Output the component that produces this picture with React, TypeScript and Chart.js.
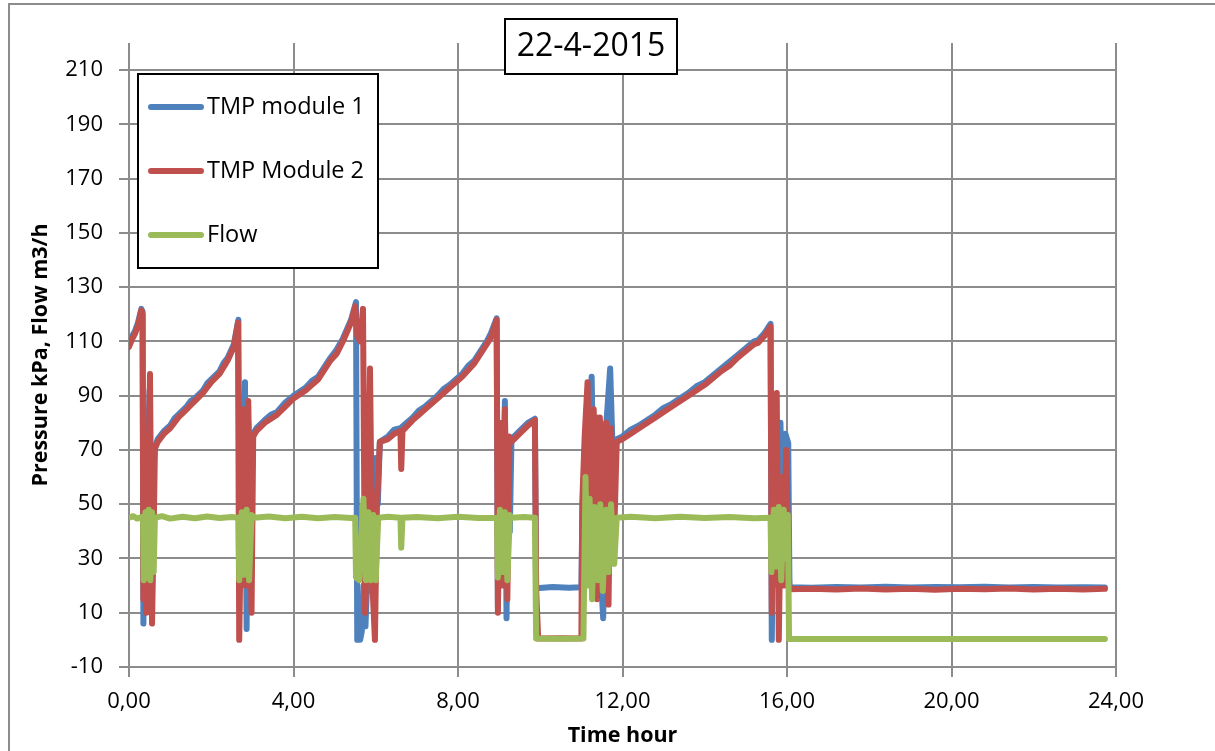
import React, { useEffect, useRef } from "react";
import { Chart, registerables } from "chart.js";

Chart.register(...registerables);

const chartTitle = "22-4-2015";
const seriesNames = ["TMP module 1", "TMP Module 2", "Flow"];
const seriesColors = ["#4f81bd", "#c0504d", "#9bbb59"];
const yTickValues = [-10, 10, 30, 50, 70, 90, 110, 130, 150, 170, 190, 210];
const xAxisTitle = "Time hour";
const yAxisTitle = "Pressure kPa, Flow m3/h";

const tmp1Time = [0, 0.08, 0.15, 0.22, 0.3, 0.33, 0.35, 0.38, 0.42, 0.46, 0.5, 0.54, 0.58, 0.63, 0.7, 0.85, 1.0, 1.1, 1.2, 1.4, 1.5, 1.6, 1.8, 1.9, 2.0, 2.2, 2.3, 2.4, 2.55, 2.66, 2.68, 2.72, 2.78, 2.82, 2.86, 2.9, 2.95, 3.02, 3.1, 3.3, 3.45, 3.6, 3.8, 4.0, 4.3, 4.45, 4.6, 4.9, 5.05, 5.2, 5.4, 5.52, 5.55, 5.58, 5.62, 5.66, 5.7, 5.75, 5.8, 5.85, 5.9, 5.95, 6.0, 6.05, 6.1, 6.3, 6.45, 6.6, 6.9, 7.05, 7.2, 7.5, 7.65, 7.8, 8.1, 8.25, 8.4, 8.7, 8.8, 8.94, 8.97, 9.02, 9.08, 9.14, 9.18, 9.22, 9.26, 9.3, 9.5, 9.7, 9.87, 9.9, 10.3, 10.7, 11.0, 11.02, 11.08, 11.15, 11.25, 11.3, 11.38, 11.45, 11.53, 11.6, 11.7, 11.78, 11.86, 12.0, 12.2, 12.4, 12.8, 13.0, 13.2, 13.6, 13.8, 14.0, 14.4, 14.6, 14.8, 15.2, 15.3, 15.45, 15.6, 15.63, 15.66, 15.72, 15.78, 15.84, 15.9, 15.96, 16.03, 16.06, 16.6, 17.2, 17.8, 18.4, 19.0, 19.6, 20.2, 20.8, 21.4, 22.0, 22.6, 23.2, 23.73];
const tmp1Values = [109, 112, 114, 117, 122, 121, 6, 40, 20, 70, 92, 30, 60, 71, 74, 77, 79, 81.5, 83, 86, 88, 89, 92, 94.5, 96, 99, 102, 104, 109, 118, 50, 20, 60, 95, 4, 80, 40, 76, 78, 81, 83, 84, 87.5, 90, 93, 95.5, 97, 104, 107, 111, 118, 124.5, 0, 10, 0, 3, 20, 5, 25, 60, 20, 15, 67, 50, 73, 75, 77.5, 78, 82, 84.5, 86, 90, 92.5, 94, 98, 101, 103, 110, 113, 118.5, 12, 60, 30, 88, 8, 70, 40, 74, 77, 80, 81.5, 19, 19.5, 19.2, 19.4, 40, 70, 60, 97, 50, 82, 30, 8, 78, 100, 60, 74, 75, 77.5, 79, 83, 85.5, 87, 91, 93.5, 95, 100, 102.5, 105, 110, 110.5, 113, 116.5, 0, 40, 90, 20, 80, 40, 76, 72.5, 19.4, 19.2, 19.5, 19.3, 19.6, 19.3, 19.5, 19.4, 19.6, 19.3, 19.5, 19.3, 19.4, 19.3];

const tmp2Time = [0, 0.08, 0.15, 0.22, 0.3, 0.33, 0.35, 0.38, 0.42, 0.46, 0.51, 0.56, 0.6, 0.63, 0.7, 0.85, 1.0, 1.1, 1.2, 1.4, 1.5, 1.6, 1.8, 1.9, 2.0, 2.2, 2.3, 2.4, 2.55, 2.65, 2.68, 2.72, 2.78, 2.84, 2.9, 2.98, 3.02, 3.1, 3.3, 3.45, 3.6, 3.8, 4.0, 4.3, 4.45, 4.6, 4.9, 5.05, 5.2, 5.4, 5.5, 5.55, 5.62, 5.69, 5.74, 5.8, 5.86, 5.92, 5.98, 6.03, 6.1, 6.3, 6.45, 6.6, 6.62, 6.65, 6.9, 7.05, 7.2, 7.5, 7.65, 7.8, 8.1, 8.25, 8.4, 8.7, 8.8, 8.94, 8.97, 9.02, 9.08, 9.14, 9.2, 9.25, 9.3, 9.5, 9.7, 9.87, 9.9, 9.95, 10.5, 11.0, 11.02, 11.08, 11.15, 11.22, 11.3, 11.38, 11.45, 11.53, 11.6, 11.66, 11.72, 11.8, 11.86, 12.0, 12.2, 12.4, 12.8, 13.0, 13.2, 13.6, 13.8, 14.0, 14.4, 14.6, 14.8, 15.2, 15.3, 15.45, 15.6, 15.63, 15.68, 15.75, 15.8, 15.86, 15.92, 15.98, 16.03, 16.06, 16.6, 17.2, 17.8, 18.4, 19.0, 19.6, 20.2, 20.8, 21.4, 22.0, 22.6, 23.2, 23.73];
const tmp2Values = [108, 111, 113, 116, 121.5, 120, 15, 60, 10, 50, 98, 6, 40, 70.5, 73, 76, 78, 80, 82, 85, 86.5, 88, 91, 93, 95, 98, 100.5, 103, 108, 117, 0, 40, 85, 20, 88, 10, 75, 77, 80, 81.5, 83, 86, 89, 92, 94, 96, 103, 105.5, 110, 117, 123, 112, 110, 122, 10, 40, 100, 20, 0, 50, 73, 74, 76, 77, 63, 77, 81, 83, 85, 89, 91, 93, 97, 99.5, 102, 109, 111.5, 118, 10, 80, 20, 85, 15, 75, 73, 76, 79, 81, 19, 0.5, 0.6, 0.5, 50, 75, 95, 30, 85, 15, 82, 20, 80, 13, 78, 40, 73, 74, 76, 78, 82, 84, 86, 90, 92, 94, 99, 101, 104, 109, 109.5, 112, 115.5, 10, 80, 91, 0, 60, 20, 70, 30, 18.7, 18.8, 18.6, 18.9, 18.6, 18.8, 18.5, 18.8, 18.7, 18.9, 18.6, 18.8, 18.6, 18.8];

const flowTime = [0, 0.1, 0.2, 0.3, 0.34, 0.36, 0.4, 0.44, 0.48, 0.52, 0.56, 0.6, 0.63, 0.8, 1.0, 1.3, 1.6, 1.9, 2.2, 2.5, 2.66, 2.68, 2.74, 2.8, 2.86, 2.92, 2.98, 3.04, 3.4, 3.8, 4.2, 4.6, 5.0, 5.4, 5.5, 5.52, 5.6, 5.66, 5.7, 5.76, 5.82, 5.88, 5.94, 6.0, 6.06, 6.3, 6.6, 6.62, 6.65, 7.0, 7.5, 8.0, 8.5, 8.95, 8.97, 9.02, 9.08, 9.14, 9.2, 9.26, 9.3, 9.6, 9.87, 9.9, 10.5, 11.05, 11.1, 11.15, 11.2, 11.26, 11.32, 11.4, 11.46, 11.52, 11.6, 11.66, 11.72, 11.8, 11.86, 12.2, 12.8, 13.4, 14.0, 14.6, 15.2, 15.6, 15.62, 15.68, 15.74, 15.8, 15.86, 15.92, 15.98, 16.02, 16.05, 17.0, 20.0, 23.73];
const flowValues = [45, 45.6, 44.7, 45.3, 45, 22, 47, 23, 48, 22, 47, 25, 45, 45.6, 44.7, 45.4, 44.8, 45.5, 44.9, 45.3, 45, 22, 47, 24, 48, 22, 46, 45, 45.5, 44.8, 45.4, 44.8, 45.3, 44.9, 45, 23, 22, 40, 52, 22, 47, 22, 46, 22, 45, 45.4, 45, 34, 45, 45.3, 44.8, 45.4, 44.9, 45, 23, 48, 25, 47, 22, 46, 45, 45.3, 45, 0.5, 0.4, 0.5, 60, 20, 52, 15, 49, 22, 50, 18, 48, 25, 50, 28, 45, 45.4, 44.8, 45.4, 44.9, 45.3, 44.8, 45, 25, 48, 27, 49, 22, 48, 30, 46, 0.3, 0.3, 0.3, 0.3];

const FONT = "'Open Sans', sans-serif";

const decorPlugin = {
  id: "decor",
  afterDraw(chart: any) {
    const ctx = chart.ctx;
    ctx.save();
    // outer frame
    ctx.strokeStyle = "#8c8c8c";
    ctx.lineWidth = 2;
    ctx.beginPath();
    ctx.moveTo(9, 760);
    ctx.lineTo(9, 4);
    ctx.lineTo(1220, 4);
    ctx.stroke();
    // title box
    ctx.fillStyle = "#ffffff";
    ctx.fillRect(505, 19, 172, 55);
    ctx.strokeStyle = "#000000";
    ctx.lineWidth = 2;
    ctx.strokeRect(505, 19, 172, 55);
    ctx.fillStyle = "#000000";
    ctx.font = `32px ${FONT}`;
    ctx.textAlign = "center";
    ctx.textBaseline = "middle";
    ctx.fillText(chartTitle, 591, 47);
    // legend box
    ctx.fillStyle = "#ffffff";
    ctx.fillRect(138, 74, 240, 194);
    ctx.strokeStyle = "#000000";
    ctx.lineWidth = 2;
    ctx.strokeRect(138, 74, 240, 194);
    const rows = [107, 171, 235];
    ctx.font = `23.5px ${FONT}`;
    ctx.textAlign = "left";
    for (let i = 0; i < 3; i++) {
      ctx.strokeStyle = seriesColors[i];
      ctx.lineWidth = 6;
      ctx.lineCap = "round";
      ctx.beginPath();
      ctx.moveTo(151, rows[i]);
      ctx.lineTo(201, rows[i]);
      ctx.stroke();
      ctx.fillStyle = "#000000";
      ctx.fillText(seriesNames[i], 207, rows[i]);
    }
    ctx.restore();
  },
};

function toPoints(t: number[], v: number[]) {
  return t.map((x, i) => ({ x, y: v[i] }));
}

export default function App() {
  const ref = useRef<HTMLCanvasElement>(null);
  useEffect(() => {
    if (!ref.current) return;
    const line = (i: number, t: number[], v: number[], order: number) => ({
      label: seriesNames[i],
      data: toPoints(t, v),
      borderColor: seriesColors[i],
      backgroundColor: seriesColors[i],
      borderWidth: 6,
      borderCapStyle: "round",
      borderJoinStyle: "round",
      pointRadius: 0,
      tension: 0,
      order,
    });
    const chart = new Chart(ref.current, {
      type: "line",
      data: {
        datasets: [
          line(0, tmp1Time, tmp1Values, 3),
          line(1, tmp2Time, tmp2Values, 2),
          line(2, flowTime, flowValues, 1),
        ] as any,
      },
      options: {
        animation: false,
        responsive: false,
        layout: { padding: { left: 0, right: 99, top: 43, bottom: 0 } },
        plugins: { legend: { display: false }, tooltip: { enabled: false }, title: { display: false } },
        scales: {
          x: {
            type: "linear",
            min: 0,
            max: 24,
            ticks: {
              stepSize: 4,
              padding: 12,
              color: "#000",
              font: { family: FONT, size: 22 },
              callback: (v: any) => Number(v).toFixed(2).replace(".", ","),
            },
            grid: { color: "#8c8c8c", lineWidth: 2, tickLength: 10 },
            border: { display: false },
            title: { display: true, text: xAxisTitle, color: "#000", font: { family: FONT, size: 21.5, weight: "bold" }, padding: { top: 0, bottom: 2 } },
            afterFit: (s: any) => { s.height = 84; },
          },
          y: {
            type: "linear",
            min: -10,
            max: 220,
            afterBuildTicks: (s: any) => { s.ticks = yTickValues.map((value) => ({ value })); },
            ticks: { padding: 16, color: "#000", font: { family: FONT, size: 22 } },
            grid: { color: "#8c8c8c", lineWidth: 2, tickLength: 10 },
            border: { display: false },
            title: { display: true, text: yAxisTitle, color: "#000", font: { family: FONT, size: 21.5, weight: "bold" }, padding: { top: 28, bottom: 0 } },
            afterFit: (s: any) => { s.width = 129; },
          },
        },
      } as any,
      plugins: [decorPlugin],
    });
    return () => chart.destroy();
  }, []);
  return (
    <div style={{ position: "absolute", left: 0, top: 0, width: 1215, height: 751, background: "#fff" }}>
      <canvas ref={ref} width={1215} height={751} />
    </div>
  );
}
